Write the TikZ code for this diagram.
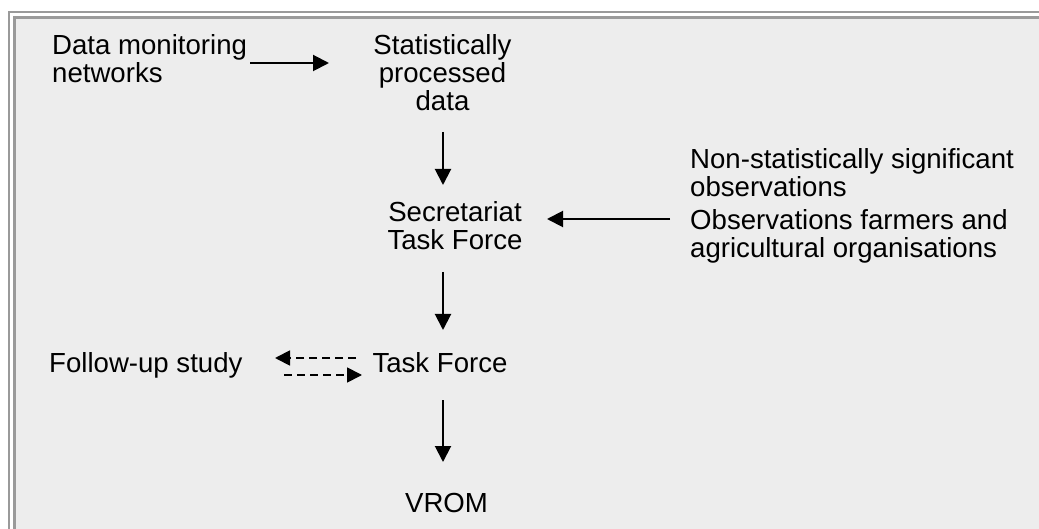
\documentclass[tikz,border=0pt]{standalone}
\usepackage{fontspec}
\setmainfont{Liberation Sans}
\usetikzlibrary{arrows.meta}
\definecolor{panelbg}{HTML}{EDEDED}
\definecolor{framegray}{HTML}{9A9A9A}
\tikzset{
  lbl/.style={inner sep=0pt, font=\fontsize{27.6}{28}\selectfont, text depth=0pt},
  flow/.style={line width=2pt, -{Triangle[length=16pt,width=16pt]}},
  dflow/.style={line width=1.8pt, dash pattern=on 8pt off 5pt, -{Triangle[length=15pt,width=15pt]}},
  frame/.style={line width=2.4pt, draw=framegray}
}
\begin{document}
\begin{tikzpicture}[x=1pt,y=-1pt]
\useasboundingbox (0,0) rectangle (1039,529);
\fill[white] (0,0) rectangle (1039,529);
\fill[panelbg] (14,17) rectangle (1039,529);
\draw[frame] (9,529) -- (9,12) -- (1039,12);
\draw[frame] (14.5,529) -- (14.5,17.5) -- (1039,17.5);

\node[lbl, anchor=base west, align=left] (dmn) at (52,83) {Data monitoring\\networks};
\node[lbl, anchor=base, align=center] (spd) at (442.5,111) {Statistically\\processed\\data};
\node[lbl, anchor=base, align=center] (stf) at (455,250) {Secretariat\\Task Force};
\node[lbl, anchor=base west, align=left] (nso) at (690,197) {Non-statistically significant\\observations};
\node[lbl, anchor=base west, align=left] (ofa) at (690,258) {Observations farmers and\\agricultural organisations};
\node[lbl, anchor=base] (tf) at (440,372) {Task Force};
\node[lbl, anchor=base west] (fus) at (49,372) {Follow-up study};
\node[lbl, anchor=base] (vrom) at (446.5,512) {VROM};

\coordinate (a1s) at (250,63);  \coordinate (a1e) at (329,63);
\coordinate (a2s) at (443,132); \coordinate (a2e) at (443,185);
\coordinate (a3s) at (670,219); \coordinate (a3e) at (547,219);
\coordinate (a4s) at (443,272); \coordinate (a4e) at (443,330);
\coordinate (a5s) at (443,400); \coordinate (a5e) at (443,462);
\coordinate (d1s) at (356,358); \coordinate (d1e) at (275,358);
\coordinate (d2s) at (284,375); \coordinate (d2e) at (362,375);

\draw[flow] (a1s) -- (a1e);
\draw[flow] (a2s) -- (a2e);
\draw[flow] (a3s) -- (a3e);
\draw[flow] (a4s) -- (a4e);
\draw[flow] (a5s) -- (a5e);
\draw[dflow] (d1s) -- (d1e);
\draw[dflow] (d2s) -- (d2e);
\end{tikzpicture}
\end{document}
